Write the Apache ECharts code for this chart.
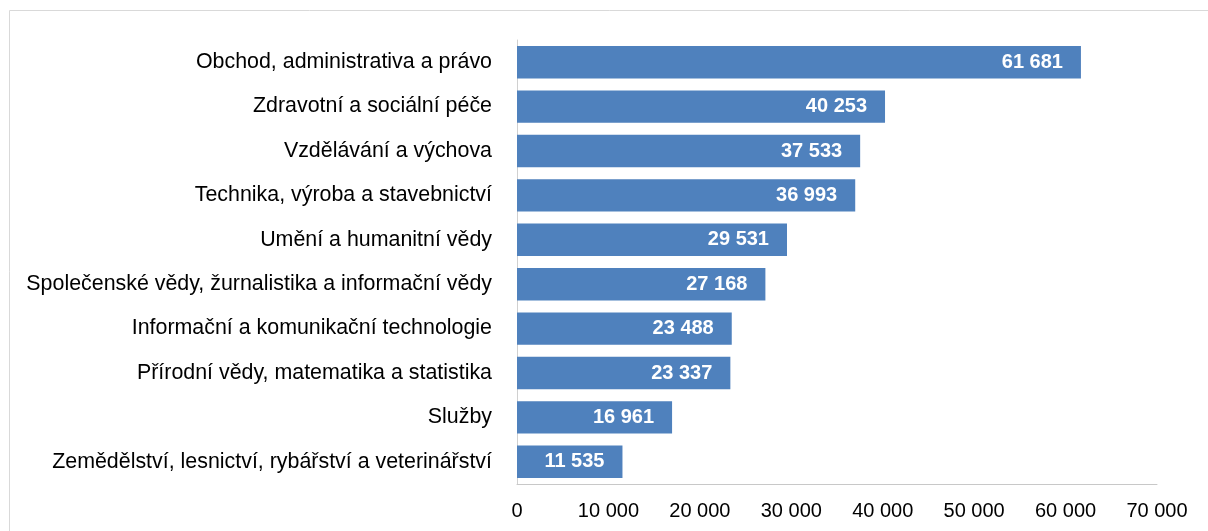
<!DOCTYPE html>
<html><head><meta charset="utf-8">
<script src="https://cdn.jsdelivr.net/npm/echarts@6/dist/echarts.min.js"></script>
<style>html,body{margin:0;padding:0;background:#fff}#c{width:1208px;height:531px}</style>
</head><body><div id="c"></div>
<script>
const categories = [
  "Obchod, administrativa a právo",
  "Zdravotní a sociální péče",
  "Vzdělávání a výchova",
  "Technika, výroba a stavebnictví",
  "Umění a humanitní vědy",
  "Společenské vědy, žurnalistika a informační vědy",
  "Informační a komunikační technologie",
  "Přírodní vědy, matematika a statistika",
  "Služby",
  "Zemědělství, lesnictví, rybářství a veterinářství"
];
const values = [61681, 40253, 37533, 36993, 29531, 27168, 23488, 23337, 16961, 11535];
const axisMin = 0, axisMax = 70000, axisStep = 10000;

const fmt = v => String(v).replace(/\B(?=(\d{3})+(?!\d))/g, ' ');
const FF = 'Liberation Sans, Arial, sans-serif';
const chart = echarts.init(document.getElementById('c'), null, {renderer: 'canvas'});
chart.setOption({
  animation: false,
  textStyle: {fontFamily: FF},
  graphic: [{type: 'rect', shape: {x: 9.5, y: 10.5, width: 1300, height: 600}, style: {fill: 'none', stroke: '#d9d9d9', lineWidth: 1}, silent: true}],
  grid: {left: 517, right: 51, top: 40, bottom: 47, containLabel: false},
  xAxis: {
    type: 'value', min: axisMin, max: axisMax, interval: axisStep,
    axisLine: {show: true, lineStyle: {color: '#c8c8c8', width: 1}},
    axisTick: {show: false},
    splitLine: {show: false},
    axisLabel: {formatter: fmt, color: '#000', fontSize: 20, margin: 17, fontFamily: FF}
  },
  yAxis: {
    type: 'category', data: categories, inverse: true,
    axisLine: {show: true, lineStyle: {color: '#d0d0d0', width: 1}},
    axisTick: {show: false},
    axisLabel: {color: '#000', fontSize: 21.4, margin: 25, fontFamily: FF}
  },
  series: [{
    type: 'bar', data: values, barCategoryGap: '27%',
    itemStyle: {color: '#4f81bd'},
    label: {show: true, position: 'insideRight', distance: 18, formatter: p => fmt(p.value),
      color: '#fff', fontWeight: 'bold', fontSize: 20, fontFamily: FF}
  }]
});
</script></body></html>
